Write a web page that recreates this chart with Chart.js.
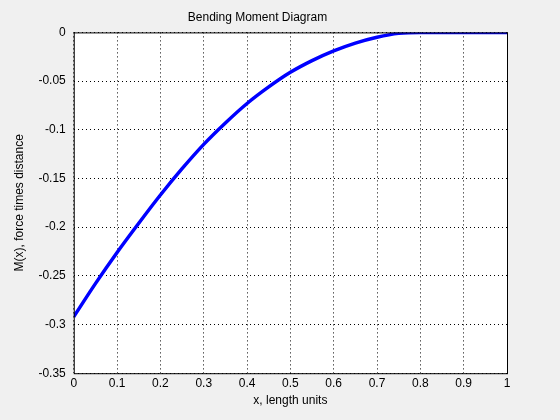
<!DOCTYPE html>
<html>
<head>
<script src="https://cdn.jsdelivr.net/npm/chart.js@4"></script>
<style>
  html, body { margin: 0; padding: 0; background: #f0f0f0; }
  #wrap { width: 560px; height: 420px; }
</style>
</head>
<body>
<div id="wrap"><canvas id="chart" width="560" height="420"></canvas></div>
<script>
// Values
const xValues = [0, 0.05, 0.1, 0.15, 0.2, 0.25, 0.3, 0.35, 0.4, 0.45, 0.5,
                 0.55, 0.6, 0.65, 0.7, 0.75, 0.8, 0.85, 0.9, 0.95, 1];
const momentValues = [-0.292, -0.258, -0.226, -0.196, -0.167, -0.140, -0.115, -0.093, -0.073, -0.056, -0.041,
                      -0.029, -0.019, -0.011, -0.005, -0.001, 0, 0, 0, 0, 0];
const xTicks = [0, 0.1, 0.2, 0.3, 0.4, 0.5, 0.6, 0.7, 0.8, 0.9, 1];
const yTicks = [0, -0.05, -0.1, -0.15, -0.2, -0.25, -0.3, -0.35];

const font = { family: "Liberation Sans", size: 12, weight: "normal" };

// white plot area + black box
const plotBox = {
  id: "plotBox",
  beforeDraw(chart) {
    const { ctx, chartArea: a } = chart;
    ctx.save();
    ctx.fillStyle = "#ffffff";
    ctx.fillRect(a.left, a.top, a.right - a.left, a.bottom - a.top);
    ctx.restore();
  },
  afterDraw(chart) {
    const { ctx, chartArea: a } = chart;
    ctx.save();
    ctx.strokeStyle = "#000";
    ctx.lineWidth = 1;
    ctx.strokeRect(a.left + 0.5, a.top + 0.5, a.right - a.left, a.bottom - a.top);
    ctx.restore();
  }
};

new Chart(document.getElementById("chart"), {
  type: "line",
  data: {
    datasets: [{
      data: xValues.map((x, i) => ({ x: x, y: momentValues[i] })),
      borderColor: "#0000ff",
      borderWidth: 3.5,
      pointRadius: 0,
      cubicInterpolationMode: "monotone"
    }]
  },
  options: {
    responsive: false,
    animation: false,
    layout: { padding: { top: 0, right: 53, bottom: 8, left: 8 } },
    plugins: {
      legend: { display: false },
      tooltip: { enabled: false },
      title: {
        display: true,
        text: "Bending Moment Diagram",
        color: "#000",
        font: font,
        padding: { top: 10, bottom: 8 }
      }
    },
    scales: {
      x: {
        type: "linear",
        min: 0, max: 1,
        afterBuildTicks: axis => { axis.ticks = xTicks.map(v => ({ value: v })); },
        ticks: { color: "#000", font: font, maxRotation: 0, callback: v => String(v) },
        grid: { color: "#000", lineWidth: 1, drawTicks: false },
        border: { display: false, dash: [1, 3] },
        title: { display: true, text: "x, length units", color: "#000", font: font, padding: { top: 0 } }
      },
      y: {
        min: -0.35, max: 0,
        afterBuildTicks: axis => { axis.ticks = yTicks.map(v => ({ value: v })); },
        ticks: { color: "#000", font: font, padding: 8, callback: v => String(v) },
        grid: { color: "#000", lineWidth: 1, drawTicks: false },
        border: { display: false, dash: [1, 3] },
        title: { display: true, text: "M(x), force times distance", color: "#000", font: font, padding: { bottom: 4 } }
      }
    }
  },
  plugins: [plotBox]
});
</script>
</body>
</html>
